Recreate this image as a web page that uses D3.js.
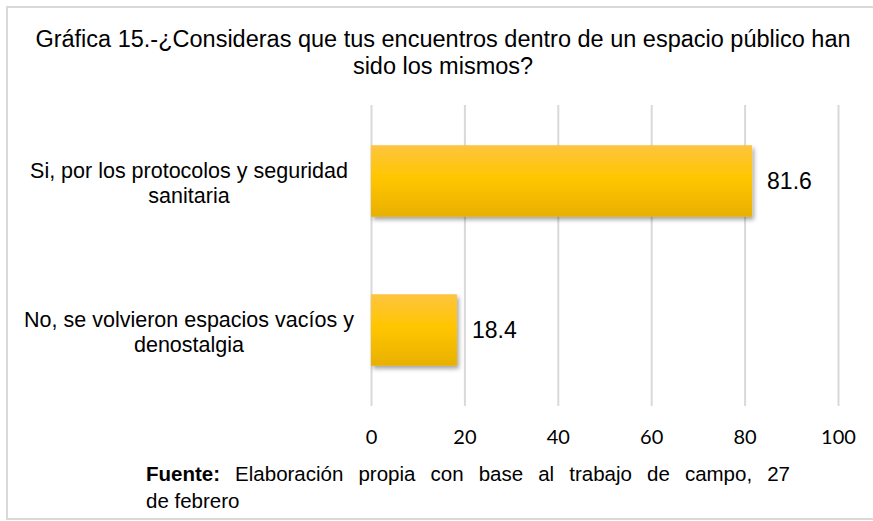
<!DOCTYPE html>
<html>
<head>
<meta charset="utf-8">
<script src="https://cdn.jsdelivr.net/npm/d3@7"></script>
<style>
  body { margin: 0; background: #fff; }
  svg { display: block; }
</style>
</head>
<body>
<div id="chart"></div>
<script>
// datos de la gráfica
const categories = ['si', 'no'];
const categoryLines = [
  ['Si, por los protocolos y seguridad', 'sanitaria'],
  ['No, se volvieron espacios vacíos y', 'denostalgia']
];
const values = [81.6, 18.4];
const tickValues = [0, 20, 40, 60, 80, 100];
const titleLines = [
  'Gráfica 15.-¿Consideras que tus encuentros dentro de un espacio público han',
  'sido los mismos?'
];
const sourceBold = 'Fuente:';
const sourceLine1 = 'Elaboración propia con base al trabajo de campo, 27';
const sourceLine2 = 'de febrero';

const width = 873;
const height = 521;

const svg = d3.select('#chart')
  .append('svg')
  .attr('width', width)
  .attr('height', height);

const defs = svg.append('defs');
const grad = defs.append('linearGradient')
  .attr('id', 'barGrad')
  .attr('x1', 0).attr('y1', 0).attr('x2', 0).attr('y2', 1);
grad.append('stop').attr('offset', '0%').attr('stop-color', '#fec440');
grad.append('stop').attr('offset', '45%').attr('stop-color', '#ffc600');
grad.append('stop').attr('offset', '100%').attr('stop-color', '#e8b000');

const shadow = defs.append('filter')
  .attr('id', 'shadow')
  .attr('x', '-5%').attr('y', '-10%').attr('width', '115%').attr('height', '130%');
shadow.append('feDropShadow')
  .attr('dx', 2).attr('dy', 3).attr('stdDeviation', 2)
  .attr('flood-color', '#000').attr('flood-opacity', 0.35);

// marco
svg.append('rect')
  .attr('x', 7).attr('y', 7)
  .attr('width', 890).attr('height', 512)
  .attr('fill', '#fff')
  .attr('stroke', '#d9d9d9')
  .attr('stroke-width', 2);

// título
svg.append('text')
  .attr('x', 443)
  .attr('font-family', 'Liberation Sans, Arial, sans-serif')
  .attr('font-size', 23.5)
  .attr('fill', '#000')
  .attr('text-anchor', 'middle')
  .selectAll('tspan')
  .data(titleLines)
  .enter()
  .append('tspan')
  .attr('x', 443)
  .attr('y', (d, i) => 47 + i * 27)
  .text(d => d);

const plot = { left: 371, right: 838, top: 105, bottom: 406 };

const xScale = d3.scaleLinear()
  .domain([0, 100])
  .range([plot.left, plot.right]);

const yScale = d3.scaleBand()
  .domain(categories)
  .range([plot.top, plot.bottom])
  .paddingInner(0.52)
  .paddingOuter(0.27);

// rejilla
const grid = svg.append('g')
  .attr('transform', `translate(0, ${plot.bottom})`)
  .call(d3.axisBottom(xScale)
    .tickValues(tickValues)
    .tickSize(-(plot.bottom - plot.top))
    .tickFormat(''));
grid.select('.domain').remove();
grid.selectAll('line')
  .attr('stroke', '#d9d9d9')
  .attr('stroke-width', 2);

// barras
svg.selectAll('.bar')
  .data(values)
  .enter()
  .append('rect')
  .attr('class', 'bar')
  .attr('x', xScale(0))
  .attr('y', (d, i) => yScale(categories[i]))
  .attr('width', d => xScale(d) - xScale(0))
  .attr('height', yScale.bandwidth())
  .attr('fill', 'url(#barGrad)')
  .attr('filter', 'url(#shadow)');

// etiquetas de valor
svg.selectAll('.value')
  .data(values)
  .enter()
  .append('text')
  .attr('class', 'value')
  .attr('x', d => xScale(d) + 15)
  .attr('y', (d, i) => yScale(categories[i]) + yScale.bandwidth() / 2)
  .attr('dy', '0.36em')
  .attr('font-family', 'Liberation Sans, Arial, sans-serif')
  .attr('font-size', 23)
  .attr('fill', '#000')
  .text(d => d.toFixed(1));

// categorías
const cats = svg.selectAll('.cat')
  .data(categoryLines)
  .enter()
  .append('text')
  .attr('class', 'cat')
  .attr('font-family', 'Liberation Sans, Arial, sans-serif')
  .attr('font-size', 21.5)
  .attr('fill', '#000')
  .attr('text-anchor', 'middle');
cats.selectAll('tspan')
  .data((d, i) => d.map(t => ({ t, i })))
  .enter()
  .append('tspan')
  .attr('x', 189)
  .attr('y', (d, j) => yScale(categories[d.i]) + yScale.bandwidth() / 2 - 3 + j * 25)
  .text(d => d.t);

// eje x
const xAxis = svg.append('g')
  .attr('transform', 'translate(0, 430)')
  .call(d3.axisBottom(xScale)
    .tickValues(tickValues)
    .tickSize(0)
    .tickPadding(0));
xAxis.select('.domain').remove();
xAxis.selectAll('text')
  .attr('font-family', 'Lato, Carlito, sans-serif')
  .attr('font-size', 20)
  .attr('fill', '#000');

// fuente (justificada)
const src = svg.append('text')
  .attr('x', 146)
  .attr('y', 481)
  .attr('font-family', 'Liberation Sans, Arial, sans-serif')
  .attr('font-size', 20.5)
  .attr('fill', '#000');
src.append('tspan').attr('font-weight', 'bold').text(sourceBold);
src.append('tspan').text(' ' + sourceLine1);
const natural = src.node().getComputedTextLength();
const spaces = (sourceBold + ' ' + sourceLine1).split(' ').length - 1;
src.attr('word-spacing', Math.max(0, (790 - 146 - natural) / spaces));

svg.append('text')
  .attr('x', 146)
  .attr('y', 508)
  .attr('font-family', 'Liberation Sans, Arial, sans-serif')
  .attr('font-size', 20.5)
  .attr('fill', '#000')
  .text(sourceLine2);
</script>
</body>
</html>
